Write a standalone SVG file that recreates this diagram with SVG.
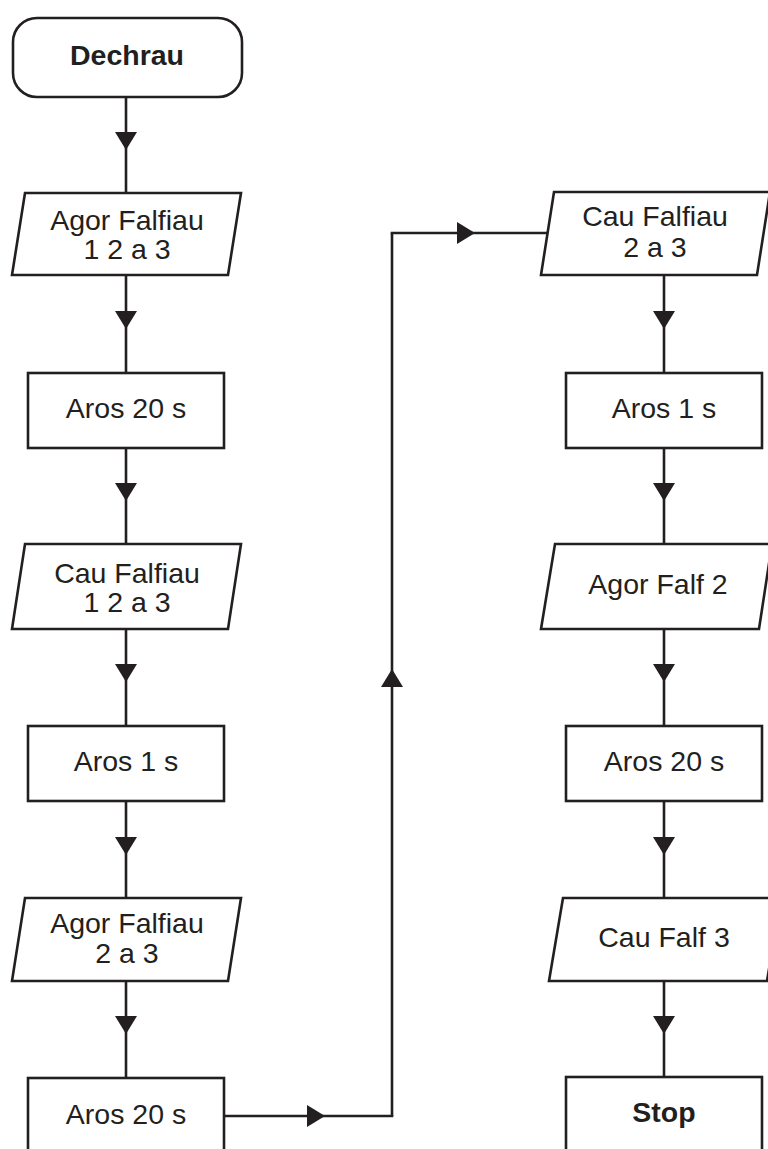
<svg xmlns="http://www.w3.org/2000/svg" width="768" height="1149" viewBox="0 0 768 1149">
<style>
.n{fill:#fff;stroke:#231f20;stroke-width:2.6}
.t{font-family:"Liberation Sans",Arial,sans-serif;font-size:28.5px;fill:#231f20;text-anchor:middle}
.b{font-weight:bold}
.c{fill:none;stroke:#231f20;stroke-width:2.6;marker-mid:url(#ah)}
</style>
<defs>
<marker id="ah" markerUnits="userSpaceOnUse" markerWidth="18" markerHeight="22" refX="9" refY="11" orient="auto" viewBox="0 0 18 22">
<path d="M0,0 L18,11 L0,22 z" fill="#231f20"/>
</marker>
</defs>
<rect width="768" height="1149" fill="#fff"/>
<g id="connectors">
<path class="c" d="M126,97 L126,141 L126,193"/>
<path class="c" d="M126,275 L126,320 L126,373"/>
<path class="c" d="M126,448 L126,492 L126,544"/>
<path class="c" d="M126,629 L126,673 L126,726"/>
<path class="c" d="M126,801 L126,846 L126,898"/>
<path class="c" d="M126,981 L126,1025 L126,1078"/>
<path class="c" d="M224,1116 L316,1116 L393.3,1116"/>
<path class="c" d="M392,1116 L392,678 L392,233"/>
<path class="c" d="M390.7,233 L466,233 L547,233"/>
<path class="c" d="M664,275 L664,320 L664,373"/>
<path class="c" d="M664,448 L664,492 L664,544"/>
<path class="c" d="M664,629 L664,673 L664,726"/>
<path class="c" d="M664,801 L664,846 L664,898"/>
<path class="c" d="M664,981 L664,1025 L664,1077"/>
</g>
<g id="start">
<rect class="n" x="13" y="18" width="229" height="79" rx="24"/>
<text class="t b" x="127" y="65">Dechrau</text>
</g>
<g id="p1">
<polygon class="n" points="25,193 241,193 228,275 12,275"/>
<text class="t" x="127" y="230">Agor Falfiau</text>
<text class="t" x="127" y="259">1 2 a 3</text>
</g>
<g id="r1">
<rect class="n" x="28" y="373" width="196" height="75"/>
<text class="t" x="126" y="418">Aros 20 s</text>
</g>
<g id="p2">
<polygon class="n" points="25,544 241,544 228,629 12,629"/>
<text class="t" x="127" y="583">Cau Falfiau</text>
<text class="t" x="127" y="612">1 2 a 3</text>
</g>
<g id="r2">
<rect class="n" x="28" y="726" width="196" height="75"/>
<text class="t" x="126" y="771">Aros 1 s</text>
</g>
<g id="p3">
<polygon class="n" points="25,898 241,898 228,981 12,981"/>
<text class="t" x="127" y="933">Agor Falfiau</text>
<text class="t" x="127" y="963">2 a 3</text>
</g>
<g id="r3">
<rect class="n" x="28" y="1078" width="196" height="80"/>
<text class="t" x="126" y="1124">Aros 20 s</text>
</g>
<g id="q1">
<polygon class="n" points="554,192 770,192 757,275 541,275"/>
<text class="t" x="655" y="226">Cau Falfiau</text>
<text class="t" x="655" y="257">2 a 3</text>
</g>
<g id="s1">
<rect class="n" x="566" y="373" width="196" height="75"/>
<text class="t" x="664" y="418">Aros 1 s</text>
</g>
<g id="q2">
<polygon class="n" points="555,544 772,544 759,629 541,629"/>
<text class="t" x="658" y="594">Agor Falf 2</text>
</g>
<g id="s2">
<rect class="n" x="566" y="726" width="196" height="75"/>
<text class="t" x="664" y="771">Aros 20 s</text>
</g>
<g id="q3">
<polygon class="n" points="563,898 781,898 767,981 549,981"/>
<text class="t" x="664" y="947">Cau Falf 3</text>
</g>
<g id="stop">
<rect class="n" x="566" y="1077" width="196" height="80"/>
<text class="t b" x="664" y="1122">Stop</text>
</g>
</svg>
